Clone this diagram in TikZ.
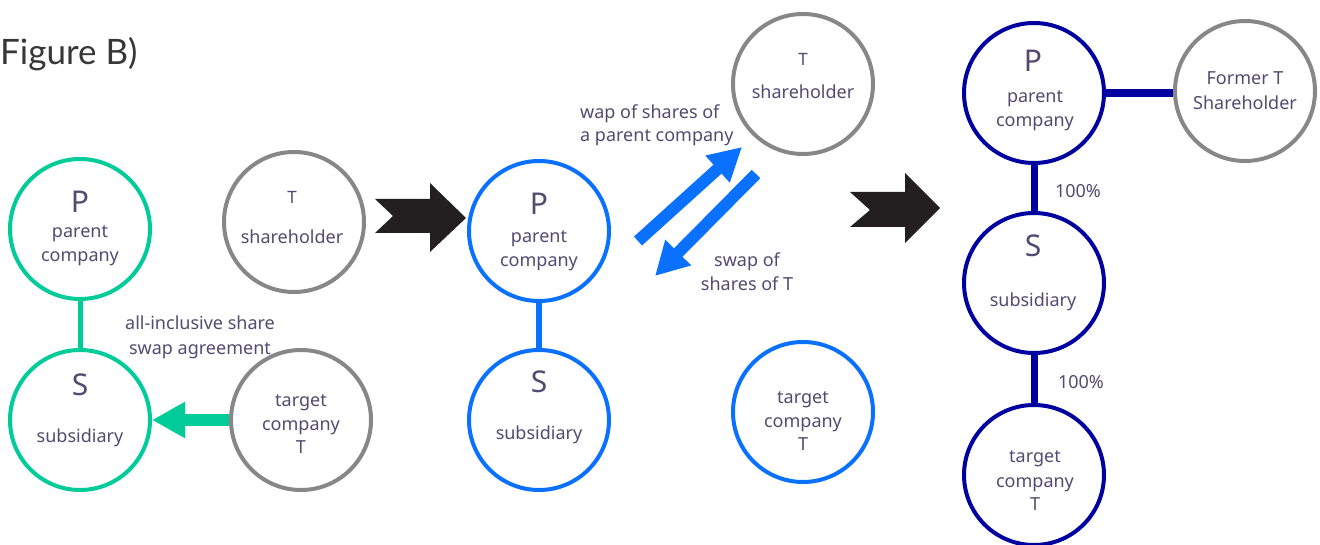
\documentclass[tikz,border=0pt]{standalone}
\usepackage{fontspec}
\setmainfont{Noto Sans}
\newfontfamily\figfont{Lato}
\usetikzlibrary{arrows.meta}
\definecolor{grn}{RGB}{0,204,153}
\definecolor{blu}{RGB}{10,112,255}
\definecolor{dblu}{RGB}{0,0,160}
\definecolor{gry}{RGB}{135,135,135}
\definecolor{txtc}{RGB}{82,74,112}
\definecolor{blk}{RGB}{35,31,32}
\definecolor{figc}{RGB}{55,55,55}
\begin{document}
\begin{tikzpicture}[x=1pt,y=-1pt,
  circ/.style={circle,line width=4pt,minimum size=140pt,inner sep=0pt},
  lbl/.style={font=\fontsize{18}{22}\selectfont,text=txtc,anchor=base,inner sep=0pt},
  bigl/.style={font=\fontsize{30}{34}\selectfont,text=txtc,anchor=base,inner sep=0pt},
  smallT/.style={font=\fontsize{17}{20}\selectfont,text=txtc,anchor=base,inner sep=0pt},
  blockarrow/.style={fill=blk},
  fatarrow/.style={line width=12pt,-{Triangle[width=34pt,length=33pt]}},
  link/.style={line width=6pt}
]
\useasboundingbox (0,0) rectangle (1320,545);

% title
\node[font=\figfont\fontsize{35}{40}\selectfont,text=figc,anchor=base west,inner sep=0pt] (title) at (0,65) {Figure B)};

% ---- stage 1 ----
\node[circ,draw=grn] (p1) at (80,229) {};
\node[circ,draw=grn] (s1) at (80,420) {};
\node[circ,draw=gry] (sh1) at (294,222) {};
\node[circ,draw=gry] (tg1) at (301,420) {};
\draw[grn,link,line width=5pt] (p1) -- (s1);
\draw[grn,fatarrow] (tg1) -- (s1);

\node[bigl] (p1P) at (80,213) {P};
\node[lbl] (p1a) at (80,238) {parent};
\node[lbl] (p1b) at (80,262) {company};
\node[bigl] (s1S) at (80,395) {S};
\node[lbl] (s1a) at (80,442) {subsidiary};
\node[smallT] (sh1T) at (292,204) {T};
\node[lbl] (sh1a) at (292,244) {shareholder};
\node[lbl] (tg1a) at (301,406) {target};
\node[lbl] (tg1b) at (301,430) {company};
\node[lbl] (tg1c) at (301,453) {T};
\node[lbl] (ag1) at (200,330) {all-inclusive share};
\node[lbl] (ag2) at (200,354) {swap agreement};

% block arrow 1
\fill[blockarrow] (375,199) -- (430,199) -- (430,183) -- (466,218) -- (430,252) -- (430,233) -- (375,233) -- (393,216) -- cycle;

% ---- stage 2 ----
\node[circ,draw=blu] (p2) at (539,231) {};
\node[circ,draw=blu] (s2) at (539,420) {};
\node[circ,draw=gry] (sh2) at (803,84) {};
\node[circ,draw=blu] (tg2) at (803,412) {};
\draw[blu,link] (p2) -- (s2);

\node[bigl] (p2P) at (539,215) {P};
\node[lbl] (p2a) at (539,243) {parent};
\node[lbl] (p2b) at (539,267) {company};
\node[bigl] (s2S) at (539,392) {S};
\node[lbl] (s2a) at (539,439) {subsidiary};
\node[smallT] (sh2T) at (803,66) {T};
\node[lbl] (sh2a) at (803,99) {shareholder};
\node[lbl] (tg2a) at (803,403) {target};
\node[lbl] (tg2b) at (803,427) {company};
\node[lbl] (tg2c) at (803,450) {T};

\coordinate (a1s) at (638,241);
\coordinate (a1e) at (742,147);
\coordinate (a2s) at (756,174);
\coordinate (a2e) at (655,276);
\draw[blu,fatarrow] (a1s) -- (a1e);
\draw[blu,fatarrow] (a2s) -- (a2e);

\node[lbl,anchor=base west] (w1) at (580,119) {wap of shares of};
\node[lbl,anchor=base west] (w2) at (580,142) {a parent company};
\node[lbl] (sw1) at (747,267) {swap of};
\node[lbl] (sw2) at (747,291) {shares of T};

% block arrow 2
\fill[blockarrow] (850,192) -- (905,192) -- (905,173) -- (940,208) -- (905,243) -- (905,227) -- (850,227) -- (870,210) -- cycle;

% ---- stage 3 ----
\node[circ,draw=dblu] (p3) at (1034,93) {};
\node[circ,draw=gry] (f3) at (1245,91) {};
\node[circ,draw=dblu] (s3) at (1034,283) {};
\node[circ,draw=dblu] (tg3) at (1034,475) {};
\draw[dblu,link,line width=8pt] (p3) -- (p3 -| f3.west);
\draw[dblu,link,line width=7pt] (p3) -- (s3);
\draw[dblu,link,line width=7pt] (s3) -- (tg3);

\node[bigl] (p3P) at (1033,72) {P};
\node[lbl] (p3a) at (1035,103) {parent};
\node[lbl] (p3b) at (1035,127) {company};
\node[lbl] (f3a) at (1245,85) {Former T};
\node[lbl] (f3b) at (1245,110) {Shareholder};
\node[lbl] (pc1) at (1078,198) {100\%};
\node[bigl] (s3S) at (1033,257) {S};
\node[lbl] (s3a) at (1033,307) {subsidiary};
\node[lbl] (pc2) at (1081,388) {100\%};
\node[lbl] (tg3a) at (1035,462) {target};
\node[lbl] (tg3b) at (1035,487) {company};
\node[lbl] (tg3c) at (1035,510) {T};
\end{tikzpicture}
\end{document}
